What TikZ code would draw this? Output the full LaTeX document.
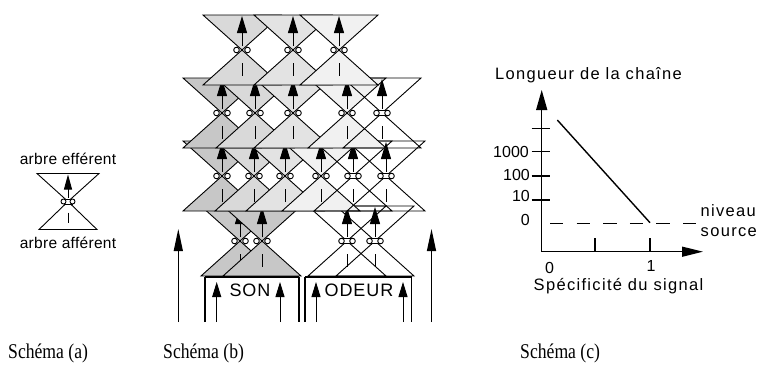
\documentclass[tikz,border=0pt]{standalone}
\usepackage{fontspec}
\setmainfont{Liberation Sans}
\newfontfamily\captionfont{Liberation Serif}
\usetikzlibrary{arrows.meta}

% grey levels of the neuron cones
\definecolor{gA}{gray}{0.78}
\definecolor{gB}{gray}{0.85}
\definecolor{gC}{gray}{0.89}
\definecolor{gD}{gray}{0.945}

\tikzset{
  edge/.style={line width=0.9pt, line join=miter},
  uparrow/.style={line width=1pt, -{Triangle[length=17pt,width=10pt]}},
  boxarrow/.style={line width=1pt, -{Triangle[length=15pt,width=9pt]}},
  bigarrow/.style={line width=1.2pt, -{Triangle[length=22pt,width=9pt]}},
  axisline/.style={line width=1.4pt},
  boxtop/.style={line width=2pt},
  boxside/.style={line width=1.3pt},
  lab/.style={inner sep=0pt, font=\fontsize{16.5}{18}\selectfont\addfontfeatures{LetterSpace=8}},
  numlab/.style={inner sep=0pt, font=\fontsize{16}{18}\selectfont},
  smalllab/.style={inner sep=0pt, font=\fontsize{15.5}{18}\selectfont\addfontfeatures{LetterSpace=2}},
  senselab/.style={inner sep=0pt, font=\fontsize{18}{20}\selectfont\addfontfeatures{LetterSpace=5}},
  caption/.style={inner sep=0pt, anchor=base west, font=\captionfont\fontsize{21}{24}\selectfont},
}

% half width and half height of one cone pair
\def\hw{39}
\def\hh{35}

% hourglass: #1 x, #2 y (waist), #3 fill options, #4 = j for a joined synapse mark
\newcommand\hourglass[4]{%
  \begin{scope}[shift={(#1,#2)}]
    \draw[edge,#3] (-\hw,-\hh) -- (\hw,-\hh) -- (0,0) -- cycle;
    \draw[edge,#3] (-\hw,\hh) -- (\hw,\hh) -- (0,0) -- cycle;
    \draw[uparrow] (0,-4) -- (0,-34);
    \draw[edge] (0,13) -- (0,26);
    \if#4j
      \fill[white] (-5.5,-2.8) rectangle (5.5,2.8);
      \draw[edge] (-5.5,-2.8) -- (5.5,-2.8) (-5.5,2.8) -- (5.5,2.8);
    \fi
    \draw[edge,fill=white] (-5.5,0) circle[radius=2.8pt] (5.5,0) circle[radius=2.8pt];
  \end{scope}}

\begin{document}
\begin{tikzpicture}[x=1pt,y=-1pt]
\useasboundingbox (0,0) rectangle (762,381);

% ---------- (a) single unit ----------
\begin{scope}[shift={(68,201.5)}]
  \draw[edge] (-31,-28) -- (31,-28) -- (0,0) -- cycle;
  \draw[edge] (-29,28) -- (29,28) -- (0,0) -- cycle;
  \draw[line width=1pt, -{Triangle[length=15pt,width=8pt]}] (0,-4) -- (0,-27);
  \draw[edge] (0,11) -- (0,21);
  \fill[white] (-4.5,-2.5) rectangle (4.5,2.5);
  \draw[edge] (-4.5,-2.5) -- (4.5,-2.5) (-4.5,2.5) -- (4.5,2.5);
  \draw[edge,fill=white] (-4.5,0) circle[radius=2.5pt] (4.5,0) circle[radius=2.5pt];
\end{scope}
\node[smalllab, anchor=base] (eff) at (68,164) {arbre efférent};
\node[smalllab, anchor=base] (aff) at (68,248) {arbre afférent};

% ---------- (b) stacked network ----------
% lowest layer: sensory inputs
\hourglass{240}{241}{fill=gA}{s}
\hourglass{262}{241}{fill=gA}{s}
\hourglass{347}{241}{fill=none}{j}
\hourglass{375}{241}{fill=none}{j}
% third layer
\hourglass{222}{176}{fill=gA}{s}
\hourglass{254}{176}{fill=gB}{s}
\hourglass{285}{176}{fill=gC}{s}
\hourglass{321}{176}{fill=gD}{s}
\hourglass{353}{176}{fill=none}{j}
\hourglass{386}{176}{fill=none}{j}
% second layer
\hourglass{222}{113}{fill=gA}{s}
\hourglass{255}{113}{fill=gB}{s}
\hourglass{293}{113}{fill=gC}{s}
\hourglass{347}{113}{fill=gD}{s}
\hourglass{382}{113}{fill=none}{j}
% top layer
\hourglass{242}{50}{fill=gB}{s}
\hourglass{293}{50}{fill=gC}{s}
\hourglass{339}{50}{fill=gD}{s}

% receptor boxes
\draw[boxside] (205,322) -- (205,277) (299,277) -- (299,322);
\draw[boxtop] (205,277) -- (299,277);
\draw[boxside] (305,322) -- (305,277) (411.5,277) -- (411.5,322);
\draw[boxtop] (305,277) -- (411.5,277);
\node[senselab] (son) at (250,290) {SON};
\node[senselab] (odeur) at (359,290) {ODEUR};
\draw[boxarrow] (216.7,322) -- (216.7,282);
\draw[boxarrow] (280,322) -- (280,282);
\draw[boxarrow] (316,322) -- (316,282);
\draw[boxarrow] (403,322) -- (403,282);

% outer arrows
\draw[bigarrow] (178.3,322) -- (178.3,229);
\draw[bigarrow] (431.5,322) -- (431.5,229);

% ---------- (c) graph ----------
\coordinate (O) at (541.7,251.7);
\draw[axisline, -{Triangle[length=20pt,width=11pt]}] (O) -- (541.7,90);
\draw[axisline, -{Triangle[length=21pt,width=10pt]}] (O) -- (703,251.7);
\foreach \yy in {128.3,151.7,176,200}
  \draw[axisline] (531.7,\yy) -- (550,\yy);
\foreach \xx in {595,650}
  \draw[axisline] (\xx,238.3) -- (\xx,251.7);
\draw[line width=1.2pt, dash pattern=on 13.3pt off 13.3pt] (550,223.3) -- (700,223.3);
\draw[axisline] (557.3,120) -- (650,222.7);

\node[lab, anchor=base west] (ylab) at (495,79.3) {Longueur de la chaîne};
\node[numlab, anchor=base east] (t1000) at (529,157) {1000};
\node[numlab, anchor=base east] (t100) at (530,180) {100};
\node[numlab, anchor=base east] (t10) at (530,201.7) {10};
\node[numlab, anchor=base east] (t0) at (530,225) {0};
\node[lab, anchor=base west] (niv) at (700.5,216.7) {niveau};
\node[lab, anchor=base west] (src) at (700.5,236.7) {source};
\node[numlab, anchor=base] (x0) at (549.5,273.3) {0};
\node[numlab, anchor=base] (x1) at (651,271.7) {1};
\node[lab, anchor=base] (xlab) at (618.5,290.7) {Spécificité du signal};

% ---------- captions ----------
\node[caption] (ca) at (8,358) {\scalebox{0.84}[1]{Schéma (a)}};
\node[caption] (cb) at (163,358) {\scalebox{0.84}[1]{Schéma (b)}};
\node[caption] (cc) at (520,358) {\scalebox{0.84}[1]{Schéma (c)}};
\end{tikzpicture}
\end{document}
